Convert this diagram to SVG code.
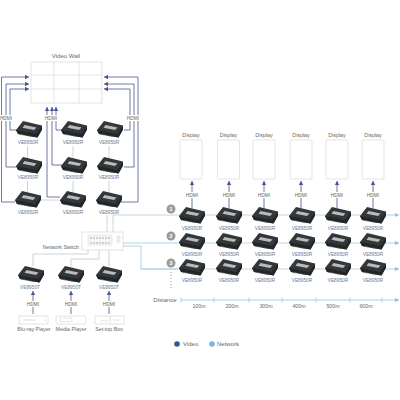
<svg xmlns="http://www.w3.org/2000/svg" width="400" height="400" viewBox="0 0 400 400">
<style>
text{font-family:"Liberation Sans",Arial,sans-serif;fill:#666;font-size:5.300px;text-anchor:middle}
.lb{fill:#6a7a94;font-size:4.800px}
.sm{font-size:4.800px;fill:#666}
.big{font-size:6px}
.v{fill:none;stroke:#4a5590;stroke-width:.8}
.n{fill:none;stroke:#c2d1d3;stroke-width:.9}
.nb{fill:none;stroke:#a6cde2;stroke-width:.9}
.box{fill:#fff;stroke:#d8d8d8;stroke-width:.7}
.bg{fill:#fff;stroke:none}
.num{fill:#9a9a9a}
</style>
<defs>
<marker id="a" markerWidth="5" markerHeight="5" refX="4" refY="2.500" orient="auto" markerUnits="userSpaceOnUse"><path d="M0 .3L4 2.500L0 4.700z" fill="#4a5590"/></marker>
<marker id="b" markerWidth="5" markerHeight="5" refX="4" refY="2.500" orient="auto" markerUnits="userSpaceOnUse"><path d="M0 .5L4 2.500L0 4.500z" fill="#8fbfdc"/></marker>
<g id="dev">
<path d="M0 9L7 0L26 4.500L26 8.500L21.500 16.500L2 13z" fill="#34373a"/>
<path d="M0 9L20 13L26 5L26 8.500L21.500 16.500L2 13z" fill="#232528"/>
<path d="M8.500 4L20.500 6.500L18 9L6.500 6.800z" fill="#b9bcbc"/>
<path d="M5 13.500L8 14.100M12 15L16 15.700" stroke="#5f7f68" stroke-width=".7"/>
</g>
</defs>
<g id="connectors">
<path class="n" d="M27.500 146V158M73 146V158M109 146V158M27.500 181V192M73 181V192M109 181V192M41 200H60M97 200H109M107 215V232"/>
<path class="n" d="M113 232V215H378"/>
<path class="n" d="M200 243H378M141 269H378"/>
<path class="nb" d="M123 243H200M123 246H141V269H178"/>
<path class="nb" marker-end="url(#b)" d="M378 215H399"/>
<path class="nb" marker-end="url(#b)" d="M378 243H399"/>
<path class="nb" marker-end="url(#b)" d="M378 269H399"/>
<path class="n" d="M88 250V254H33V266M99 250V259H71V266M109 250V266"/>
<path class="v" marker-end="url(#a)" d="M15 202H1.500V77H29"/>
<path class="v" marker-end="url(#a)" d="M16 167H6V84H29"/>
<path class="v" marker-end="url(#a)" d="M17 130H10V89H29"/>
<path class="v" marker-end="url(#a)" d="M121 202H138V77H104"/>
<path class="v" marker-end="url(#a)" d="M124 167H134V84H104"/>
<path class="v" marker-end="url(#a)" d="M124 130H130V89H104"/>
<path class="v" marker-end="url(#a)" d="M60 197H47V107"/>
<path class="v" marker-end="url(#a)" d="M62 165H52V107"/>
<path class="v" marker-end="url(#a)" d="M62 130H56V107"/>
<path class="v" marker-end="url(#a)" d="M192 208V181"/>
<path class="v" marker-end="url(#a)" d="M229 208V181"/>
<path class="v" marker-end="url(#a)" d="M264 208V181"/>
<path class="v" marker-end="url(#a)" d="M301 208V181"/>
<path class="v" marker-end="url(#a)" d="M337 208V181"/>
<path class="v" marker-end="url(#a)" d="M373 208V181"/>
<path class="v" marker-end="url(#a)" d="M33 314V291"/>
<path class="v" marker-end="url(#a)" d="M71 314V291"/>
<path class="v" marker-end="url(#a)" d="M109 314V291"/>
<path class="nb" marker-end="url(#b)" d="M181 300H399"/>
<path class="nb" d="M181 297.500V302.500M214 297.500V302.500M249 297.500V302.500M282 297.500V302.500M316 297.500V302.500M350 297.500V302.500M382 297.500V302.500"/>
<path d="M171 272V288" fill="none" stroke="#777" stroke-width=".8" stroke-dasharray="1 2"/>
</g>
<g id="video-wall"><text x="66" y="58" class="big">Video Wall</text>
<rect class="box" x="31" y="62" width="71" height="41"/>
<path d="M54 62V103M79 62V103M31 75H102M31 89H102" fill="none" stroke="#d8d8d8" stroke-width=".7"/></g>
<g id="hdmi-left"><rect class="bg" x="0" y="115" width="13" height="6"/><text x="6" y="120" class="sm">HDMI</text></g>
<g id="hdmi-mid"><rect class="bg" x="45" y="115" width="13" height="6"/><text x="51" y="120" class="sm">HDMI</text></g>
<g id="hdmi-right"><rect class="bg" x="127" y="115" width="13" height="6"/><text x="133" y="120" class="sm">HDMI</text></g>
<g id="r11"><use href="#dev" x="16" y="121"/><text class="lb" x="28" y="144">VE8950R</text></g>
<g id="r12"><use href="#dev" x="61" y="121"/><text class="lb" x="73" y="144">VE8950R</text></g>
<g id="r13"><use href="#dev" x="97" y="121"/><text class="lb" x="109" y="144">VE8950R</text></g>
<g id="r21"><use href="#dev" x="16" y="157"/><text class="lb" x="28" y="179">VE8950R</text></g>
<g id="r22"><use href="#dev" x="61" y="157"/><text class="lb" x="73" y="179">VE8950R</text></g>
<g id="r23"><use href="#dev" x="97" y="157"/><text class="lb" x="109" y="179">VE8950R</text></g>
<g id="r31"><use href="#dev" x="15" y="191"/><text class="lb" x="28" y="214">VE8950R</text></g>
<g id="r32"><use href="#dev" x="60" y="191"/><text class="lb" x="73" y="214">VE8950R</text></g>
<g id="r33"><use href="#dev" x="96" y="191"/><text class="lb" x="109" y="214">VE8950R</text></g>
<g id="switch"><rect class="box" x="82" y="232" width="41" height="18"/>
<rect x="88" y="235" width="24" height="10" fill="#f4f5f4" stroke="#d8d8d8" stroke-width=".5"/>
<path d="M90 238H111M90 243H111" stroke="#d0d0d0" stroke-width="2" stroke-dasharray="2 1"/>
<rect x="117" y="236" width="3" height="6" fill="#f2f2f2" stroke="#d0d0d0" stroke-width=".5"/>
<text x="79" y="249" style="text-anchor:end">Network Switch</text></g>
<g id="t1"><use href="#dev" x="18" y="266"/><text class="lb" x="30" y="289">VE8950T</text></g>
<g id="t2"><use href="#dev" x="58" y="266"/><text class="lb" x="71" y="289">VE8950T</text></g>
<g id="t3"><use href="#dev" x="96" y="266"/><text class="lb" x="109" y="289">VE8950T</text></g>
<g id="hdmi-src"><rect class="bg" x="26" y="301" width="14" height="6"/><text x="33" y="306" class="sm">HDMI</text>
<rect class="bg" x="64" y="301" width="14" height="6"/><text x="71" y="306" class="sm">HDMI</text>
<rect class="bg" x="102" y="301" width="14" height="6"/><text x="109" y="306" class="sm">HDMI</text></g>
<g id="s1"><rect class="box" x="19" y="316" width="29" height="8"/><path d="M23 320H36M44 320H46" stroke="#d0d0d0" stroke-width=".7"/><text x="34" y="330.500">Blu-ray Player</text></g>
<g id="s2"><rect class="box" x="56" y="316" width="30" height="8" rx="2"/><rect x="60" y="318" width="12" height="3.500" fill="none" stroke="#d0d0d0" stroke-width=".5"/><text x="71" y="330.500">Media Player</text></g>
<g id="s3"><rect class="box" x="95" y="316" width="29" height="8"/><path d="M110 316V324M100 321H108M113 320H120" stroke="#d0d0d0" stroke-width=".6"/><text x="109" y="330.500">Set-top Box</text></g>
<g id="circles"><circle class="num" cx="171" cy="209" r="4.500"/><text x="171" y="211" style="fill:#fff;font-size:6px;font-weight:bold">1</text>
<circle class="num" cx="171" cy="236" r="4.500"/><text x="171" y="238" style="fill:#fff;font-size:6px;font-weight:bold">2</text>
<circle class="num" cx="171" cy="263" r="4.500"/><text x="171" y="265" style="fill:#fff;font-size:6px;font-weight:bold">3</text></g>
<g id="displays">
<rect class="box" x="180" y="140" width="22" height="39" rx="1"/><text x="191" y="137">Display</text>
<rect class="box" x="217.500" y="140" width="22" height="39" rx="1"/><text x="228.500" y="137">Display</text>
<rect class="box" x="253" y="140" width="22" height="39" rx="1"/><text x="264" y="137">Display</text>
<rect class="box" x="290" y="140" width="22" height="39" rx="1"/><text x="301" y="137">Display</text>
<rect class="box" x="326" y="140" width="22" height="39" rx="1"/><text x="337" y="137">Display</text>
<rect class="box" x="362" y="140" width="22" height="39" rx="1"/><text x="373" y="137">Display</text>
</g>
<g id="hdmi-display">
<rect class="bg" x="185" y="192" width="14" height="6"/><text x="192" y="197" class="sm">HDMI</text>
<rect class="bg" x="222" y="192" width="14" height="6"/><text x="229" y="197" class="sm">HDMI</text>
<rect class="bg" x="257" y="192" width="14" height="6"/><text x="264" y="197" class="sm">HDMI</text>
<rect class="bg" x="294" y="192" width="14" height="6"/><text x="301" y="197" class="sm">HDMI</text>
<rect class="bg" x="330" y="192" width="14" height="6"/><text x="337" y="197" class="sm">HDMI</text>
<rect class="bg" x="366" y="192" width="14" height="6"/><text x="373" y="197" class="sm">HDMI</text>
</g>
<g id="row1"><use href="#dev" x="179" y="207"/><use href="#dev" x="216" y="207"/><use href="#dev" x="252" y="207"/><use href="#dev" x="289" y="207"/><use href="#dev" x="325" y="207"/><use href="#dev" x="360" y="207"/>
<text class="lb" x="192" y="230">VE8950R</text><text class="lb" x="229" y="230">VE8950R</text><text class="lb" x="265" y="230">VE8950R</text><text class="lb" x="302" y="230">VE8950R</text><text class="lb" x="338" y="230">VE8950R</text><text class="lb" x="373" y="230">VE8950R</text></g>
<g id="row2"><use href="#dev" x="179" y="233"/><use href="#dev" x="216" y="233"/><use href="#dev" x="252" y="233"/><use href="#dev" x="289" y="233"/><use href="#dev" x="325" y="233"/><use href="#dev" x="360" y="233"/>
<text class="lb" x="192" y="256">VE8950R</text><text class="lb" x="229" y="256">VE8950R</text><text class="lb" x="265" y="256">VE8950R</text><text class="lb" x="302" y="256">VE8950R</text><text class="lb" x="338" y="256">VE8950R</text><text class="lb" x="373" y="256">VE8950R</text></g>
<g id="row3"><use href="#dev" x="179" y="259"/><use href="#dev" x="216" y="259"/><use href="#dev" x="252" y="259"/><use href="#dev" x="289" y="259"/><use href="#dev" x="325" y="259"/><use href="#dev" x="360" y="259"/>
<text class="lb" x="192" y="282">VE8950R</text><text class="lb" x="229" y="282">VE8950R</text><text class="lb" x="265" y="282">VE8950R</text><text class="lb" x="302" y="282">VE8950R</text><text class="lb" x="338" y="282">VE8950R</text><text class="lb" x="373" y="282">VE8950R</text></g>
<g id="distance"><text x="165" y="302" class="big">Distance</text>
<text x="199" y="308">100m</text><text x="232" y="308">200m</text><text x="266" y="308">300m</text><text x="299" y="308">400m</text><text x="333" y="308">500m</text><text x="366" y="308">600m</text></g>
<g id="legend"><circle cx="177" cy="344" r="2.800" fill="#2a5a94"/><text x="183" y="346" class="big" style="text-anchor:start">Video</text>
<circle cx="212" cy="344" r="2.800" fill="#7ab6e0"/><text x="217" y="346" class="big" style="text-anchor:start">Network</text></g>
</svg>
